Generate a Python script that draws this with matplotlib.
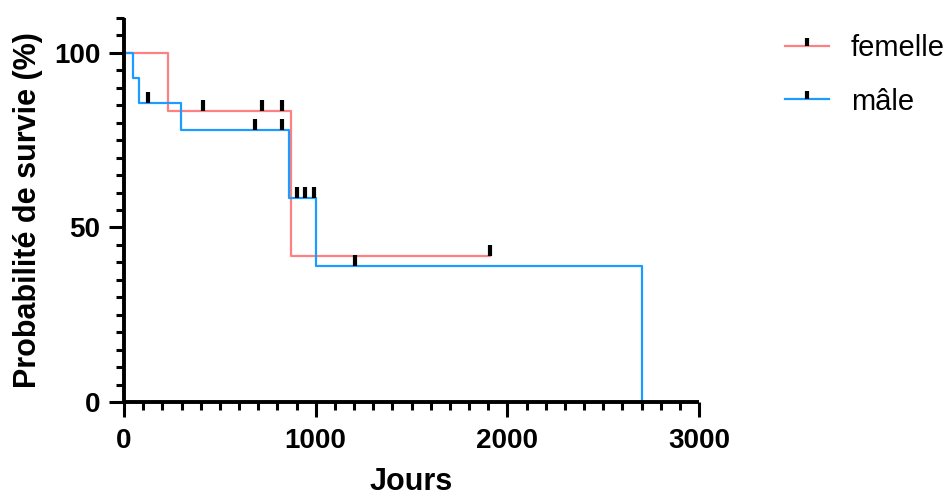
import numpy as np
import matplotlib
matplotlib.use("Agg")
import matplotlib.pyplot as plt
from matplotlib.lines import Line2D

plt.rcParams['font.family'] = ['Liberation Sans', 'DejaVu Sans']

# Kaplan-Meier steps (days, survival %)
fem_t = [0, 230, 871, 1909]
fem_s = [100, 83.3, 41.7, 41.7]
fem_cens = [412, 720, 824, 1909]

male_t = [0, 47, 80, 295, 862, 1002, 2702]
male_s = [100, 92.9, 85.7, 77.9, 58.4, 38.9, 0]
male_cens = [124, 684, 823, 904, 944, 991, 1207]

labels = ['femelle', 'mâle']
colors = ['#FF8080', '#1E9BFF']

# censor tick: short vertical bar sitting on the line
cens_marker = [(0, 0), (0, 1)]


def surv_at(t, times, surv):
    idx = np.searchsorted(times, t, side='right') - 1
    return np.array(surv)[idx]


fig = plt.figure(figsize=(9.51, 4.96), dpi=100)
ax = fig.add_axes([124 / 951, 1 - 402 / 496, 575 / 951, 384 / 496])

for t, s, c in [(fem_t, fem_s, colors[0]), (male_t, male_s, colors[1])]:
    ax.step(t, s, where='post', color=c, lw=1.6, zorder=2)

for cens, t, s in [(fem_cens, fem_t, fem_s), (male_cens, male_t, male_s)]:
    ax.plot(cens, surv_at(cens, t, s), linestyle='none', marker=cens_marker,
            markersize=16, markeredgewidth=3, color='black', zorder=3)

ax.set_xlim(0, 3000)
ax.set_ylim(0, 110)
ax.set_xticks([0, 1000, 2000, 3000])
ax.set_xticks(np.arange(0, 3001, 100), minor=True)
ax.set_yticks([0, 50, 100])
ax.set_yticks(np.arange(0, 111, 5), minor=True)

for side in ['top', 'right']:
    ax.spines[side].set_visible(False)
for side in ['left', 'bottom']:
    ax.spines[side].set_linewidth(2.8)
    ax.spines[side].set_capstyle('butt')

ax.tick_params(which='major', length=11, width=2.2, labelsize=20, pad=6)
ax.tick_params(axis='x', which='major', pad=8)
ax.tick_params(which='minor', length=6, width=2.2)
for lab in ax.get_xticklabels() + ax.get_yticklabels():
    lab.set_fontweight('bold')

ax.set_xlabel('Jours', fontsize=22, fontweight='bold', labelpad=9)
ax.set_ylabel('Probabilité de survie (%)', fontsize=22, fontweight='bold', labelpad=8)

handles = [Line2D([], [], color=c, lw=1.6, marker=cens_marker, markersize=12,
                  markeredgewidth=3, markeredgecolor='black')
           for c in colors]
fig.legend(handles, labels, loc='upper left', bbox_to_anchor=(785 / 951, 1 - 34 / 496),
           frameon=False, fontsize=21, handlelength=1.5, handletextpad=0.75,
           labelspacing=0.88, borderpad=0, borderaxespad=0)

fig.savefig('out.png', dpi=100)
